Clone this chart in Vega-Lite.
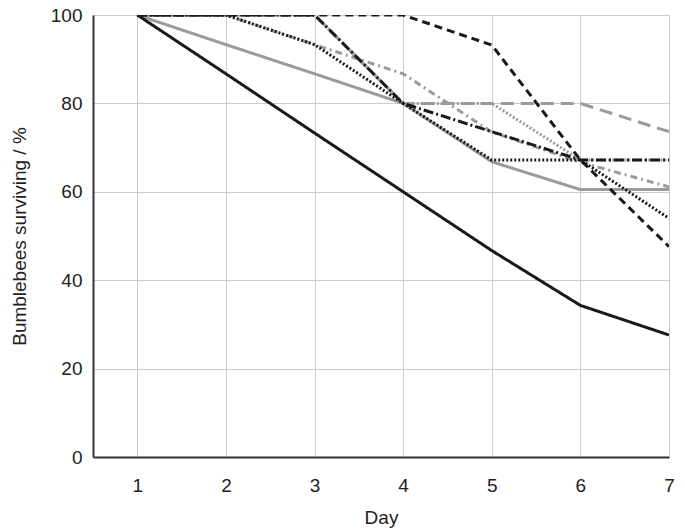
{
  "$schema": "https://vega.github.io/schema/vega-lite/v6.json",
  "width": 576,
  "height": 442,
  "autosize": "none",
  "padding": {"left": 93, "top": 15, "right": 16, "bottom": 73},
  "background": "white",
  "config": {
    "view": {"stroke": null},
    "font": "Liberation Sans",
    "axis": {
      "labelFont": "Liberation Sans",
      "titleFont": "Liberation Sans",
      "labelFontSize": 19,
      "titleFontSize": 19,
      "titleFontWeight": "normal",
      "labelColor": "#222222",
      "titleColor": "#222222",
      "gridColor": "#cccccc",
      "gridWidth": 1,
      "domainColor": "#333333",
      "domainWidth": 2,
      "ticks": false
    }
  },
  "data": {
    "values": [
      {"series": "S1", "day": 1, "pct": 100}, {"series": "S1", "day": 2, "pct": 93.3}, {"series": "S1", "day": 3, "pct": 86.7}, {"series": "S1", "day": 4, "pct": 80}, {"series": "S1", "day": 5, "pct": 66.8}, {"series": "S1", "day": 6, "pct": 60.5}, {"series": "S1", "day": 7, "pct": 60.5},
      {"series": "S2", "day": 1, "pct": 100}, {"series": "S2", "day": 2, "pct": 100}, {"series": "S2", "day": 3, "pct": 100}, {"series": "S2", "day": 4, "pct": 80}, {"series": "S2", "day": 5, "pct": 80}, {"series": "S2", "day": 6, "pct": 80}, {"series": "S2", "day": 7, "pct": 73.6},
      {"series": "S3", "day": 1, "pct": 100}, {"series": "S3", "day": 2, "pct": 100}, {"series": "S3", "day": 3, "pct": 93.3}, {"series": "S3", "day": 4, "pct": 86.7}, {"series": "S3", "day": 5, "pct": 73.5}, {"series": "S3", "day": 6, "pct": 66.7}, {"series": "S3", "day": 7, "pct": 61.1},
      {"series": "S4", "day": 1, "pct": 100}, {"series": "S4", "day": 2, "pct": 100}, {"series": "S4", "day": 3, "pct": 100}, {"series": "S4", "day": 4, "pct": 80}, {"series": "S4", "day": 5, "pct": 80}, {"series": "S4", "day": 6, "pct": 67.2}, {"series": "S4", "day": 7, "pct": 67.2},
      {"series": "S5", "day": 1, "pct": 100}, {"series": "S5", "day": 2, "pct": 86.7}, {"series": "S5", "day": 3, "pct": 73.3}, {"series": "S5", "day": 4, "pct": 60}, {"series": "S5", "day": 5, "pct": 46.7}, {"series": "S5", "day": 6, "pct": 34.3}, {"series": "S5", "day": 7, "pct": 27.6},
      {"series": "S6", "day": 1, "pct": 100}, {"series": "S6", "day": 2, "pct": 100}, {"series": "S6", "day": 3, "pct": 100}, {"series": "S6", "day": 4, "pct": 100}, {"series": "S6", "day": 5, "pct": 93.2}, {"series": "S6", "day": 6, "pct": 67.2}, {"series": "S6", "day": 7, "pct": 47.6},
      {"series": "S7", "day": 1, "pct": 100}, {"series": "S7", "day": 2, "pct": 100}, {"series": "S7", "day": 3, "pct": 100}, {"series": "S7", "day": 4, "pct": 80}, {"series": "S7", "day": 5, "pct": 73.6}, {"series": "S7", "day": 6, "pct": 67.2}, {"series": "S7", "day": 7, "pct": 67.2},
      {"series": "S8", "day": 1, "pct": 100}, {"series": "S8", "day": 2, "pct": 100}, {"series": "S8", "day": 3, "pct": 93.3}, {"series": "S8", "day": 4, "pct": 80}, {"series": "S8", "day": 5, "pct": 67.2}, {"series": "S8", "day": 6, "pct": 67.2}, {"series": "S8", "day": 7, "pct": 54}
    ]
  },
  "mark": {"type": "line", "strokeWidth": 3, "strokeCap": "butt", "clip": true},
  "encoding": {
    "x": {
      "field": "day",
      "type": "quantitative",
      "title": "Day",
      "scale": {"domain": [0.5, 7], "nice": false, "zero": false},
      "axis": {"values": [1, 2, 3, 4, 5, 6, 7], "labelPadding": 19, "titlePadding": 13, "labelFlush": false}
    },
    "y": {
      "field": "pct",
      "type": "quantitative",
      "title": "Bumblebees surviving / %",
      "scale": {"domain": [0, 100], "nice": false},
      "axis": {"values": [0, 20, 40, 60, 80, 100], "labelPadding": 11, "titlePadding": 21, "labelFlush": false}
    },
    "color": {
      "field": "series",
      "type": "nominal",
      "legend": null,
      "scale": {
        "domain": ["S1", "S2", "S3", "S4", "S5", "S6", "S7", "S8"],
        "range": ["#9b9b9b", "#9b9b9b", "#9b9b9b", "#9b9b9b", "#1a1a1a", "#1a1a1a", "#1a1a1a", "#1a1a1a"]
      }
    },
    "strokeDash": {
      "field": "series",
      "type": "nominal",
      "legend": null,
      "scale": {
        "domain": ["S1", "S2", "S3", "S4", "S5", "S6", "S7", "S8"],
        "range": [[1, 0], [13, 7], [7, 4, 2, 4], [2, 2], [1, 0], [8, 5], [10, 3, 2, 3], [2, 2]]
      }
    }
  }
}
